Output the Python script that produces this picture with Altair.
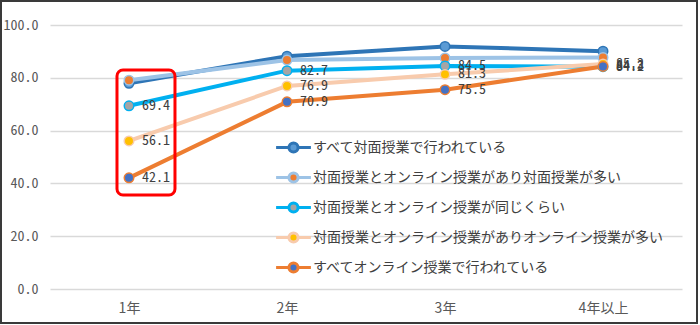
import json
import altair as alt
import pandas as pd

categories = ["1年", "2年", "3年", "4年以上"]
series_names = [
    "すべて対面授業で行われている",
    "対面授業とオンライン授業があり対面授業が多い",
    "対面授業とオンライン授業が同じくらい",
    "対面授業とオンライン授業がありオンライン授業が多い",
    "すべてオンライン授業で行われている",
]
values_all_face = [77.9, 88.2, 91.9, 90.1]
values_mostly_face = [79.1, 86.7, 87.5, 87.7]
values_equal = [69.4, 82.7, 84.5, 84.2]
values_mostly_online = [56.1, 76.9, 81.3, 85.2]
values_all_online = [42.1, 70.9, 75.5, 84.3]
series_values = [values_all_face, values_mostly_face, values_equal,
                 values_mostly_online, values_all_online]
labeled_series = series_names[2:]

line_colors = ["#2E75B6", "#9DC3E6", "#00B0F0", "#F8CBAD", "#ED7D31"]
marker_colors = ["#5B9BD5", "#ED7D31", "#A5A5A5", "#FFC000", "#4472C4"]

# highlight box around 1年 (data units)
box_x = [0.924, 1.291]
box_y = [35.6, 82.95]

rows = []
for name, vals in zip(series_names, series_values):
    for i, (cat, v) in enumerate(zip(categories, vals)):
        rows.append({"series": name, "year": cat, "idx": i + 1, "value": v,
                     "labeled": name in labeled_series})
df = pd.DataFrame(rows)

label_expr = json.dumps(categories, ensure_ascii=False) + "[datum.value - 1]"
num_font = "Noto Sans Mono CJK JP, DejaVu Sans Mono, monospace"

x_enc = alt.X("idx:Q", scale=alt.Scale(domain=[0.5, 4.5]),
              axis=alt.Axis(values=[1, 2, 3, 4], labelExpr=label_expr, title=None,
                            grid=False, ticks=False, domain=False,
                            labelFont="Noto Sans CJK JP", labelFontSize=14,
                            labelColor="#595959", labelPadding=12, labelFlush=False))
y_enc = alt.Y("value:Q", scale=alt.Scale(domain=[0, 100]),
              axis=alt.Axis(values=[0, 20, 40, 60, 80, 100], format=".1f", title=None,
                            grid=True, gridColor="#D9D9D9", gridWidth=1.5,
                            ticks=False, domain=False,
                            labelFont=num_font, labelFontSize=14,
                            labelColor="#595959", labelPadding=12))

stroke_scale = alt.Scale(domain=series_names, range=line_colors)
fill_scale = alt.Scale(domain=series_names, range=marker_colors)

sym_path = ("M-1.45,0L-0.38,0M0.38,0L1.45,0"
            "M-0.38,0A0.38,0.38 0 1,0 0.38,0A0.38,0.38 0 1,0 -0.38,0Z")
legend_spec = alt.Legend(orient="none", legendX=230, legendY=109, title=None,
                         symbolType=sym_path, symbolSize=576, symbolStrokeWidth=3,
                         labelFont="Noto Sans CJK JP", labelFontSize=14,
                         labelColor="#404040", labelOffset=6, rowPadding=5,
                         padding=0, labelLimit=600)

base = alt.Chart(df)

lines = base.mark_line(strokeWidth=4).encode(
    x=x_enc, y=y_enc,
    stroke=alt.Stroke("series:N", scale=stroke_scale, legend=legend_spec),
    order=alt.Order("idx:Q"),
)

points = base.mark_point(filled=True, shape="circle", size=90, strokeWidth=1.5,
                         opacity=1).encode(
    x=x_enc, y=y_enc,
    fill=alt.Fill("series:N", scale=fill_scale, legend=legend_spec),
    stroke=alt.Stroke("series:N", scale=stroke_scale, legend=legend_spec),
)

labels = base.transform_filter("datum.labeled").mark_text(
    align="left", baseline="middle", dx=13, font=num_font,
    fontSize=14, color="#404040",
).encode(x=x_enc, y=y_enc, text=alt.Text("value:Q", format=".1f"))

box_df = pd.DataFrame({"x": [box_x[0]], "x2": [box_x[1]], "y": [box_y[0]], "y2": [box_y[1]]})
box = alt.Chart(box_df).mark_rect(fillOpacity=0, stroke="#FF0000", strokeWidth=3,
                                  cornerRadius=6).encode(
    x=alt.X("x:Q"), x2="x2:Q", y=alt.Y("y:Q"), y2="y2:Q")

frame = alt.Chart(pd.DataFrame({"a": [0]})).mark_rect(
    fillOpacity=0, stroke="#3A3A3A", strokeWidth=2).encode(
    x=alt.value(-49), x2=alt.value(647), y=alt.value(-24), y2=alt.value(298))

chart = alt.layer(lines, points, labels, box, frame).properties(
    width=632, height=264,
    padding={"left": 50, "top": 25, "right": 18, "bottom": 36},
    autosize=alt.AutoSizeParams(type="none"),
    background="white",
).configure_view(stroke=None)

chart.save("out.html", embed_options={"renderer": "svg", "actions": False})
